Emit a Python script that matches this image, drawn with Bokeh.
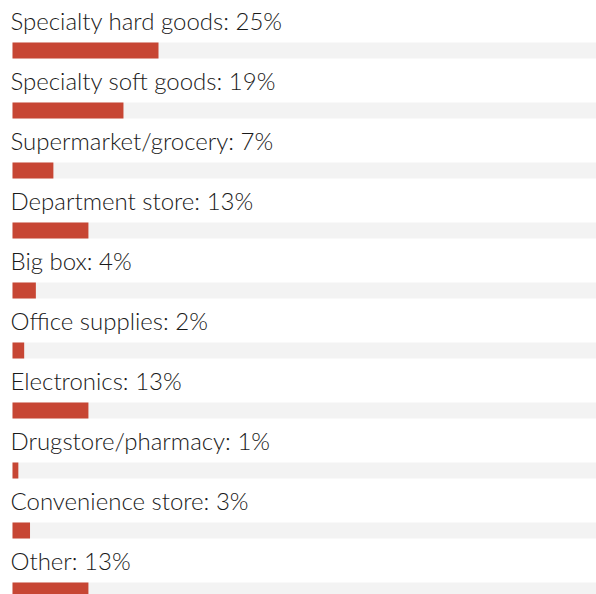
from bokeh.plotting import figure
from bokeh.models import Range1d, ColumnDataSource
from bokeh.core.properties import value
from bokeh.embed import file_html
from bokeh.resources import INLINE

categories = ["Specialty hard goods", "Specialty soft goods", "Supermarket/grocery",
              "Department store", "Big box", "Office supplies", "Electronics",
              "Drugstore/pharmacy", "Convenience store", "Other"]
shares = [25, 19, 7, 13, 4, 2, 13, 1, 3, 13]
max_share = 100

W, H = 596, 594
left_px = 12
px_per_unit = (W - left_px) / max_share
row_h = 60
bar_top = 42
bar_h = 16
text_base = 20

n = len(categories)
rows = list(range(n))
src = ColumnDataSource(dict(
    left=[0] * n,
    right=shares,
    full=[max_share] * n,
    top=[bar_top + r * row_h for r in rows],
    bottom=[bar_top + bar_h + r * row_h for r in rows],
    ty=[text_base + r * row_h for r in rows],
    tx=[-2 / px_per_unit] * n,
    label=[f"{c}: {s}%" for c, s in zip(categories, shares)],
))

p = figure(width=W, height=H, output_backend="svg", toolbar_location=None,
           x_range=Range1d(-left_px / px_per_unit, max_share),
           y_range=Range1d(H, 0), min_border=0)
p.axis.visible = False
p.grid.visible = False
p.outline_line_color = None
p.background_fill_color = "white"
p.border_fill_color = "white"

p.quad(left="left", right="full", top="top", bottom="bottom", source=src,
       fill_color="#f3f3f3", line_color=None)
p.quad(left="left", right="right", top="top", bottom="bottom", source=src,
       fill_color="#c74634", line_color=None)
p.text(x="tx", y="ty", text="label", source=src, text_font=value("Lato Light"),
       text_font_size="24px", text_color="#1a1a1a", text_baseline="alphabetic",
       text_align="left")

open("out.html", "w").write(file_html(p, INLINE))
